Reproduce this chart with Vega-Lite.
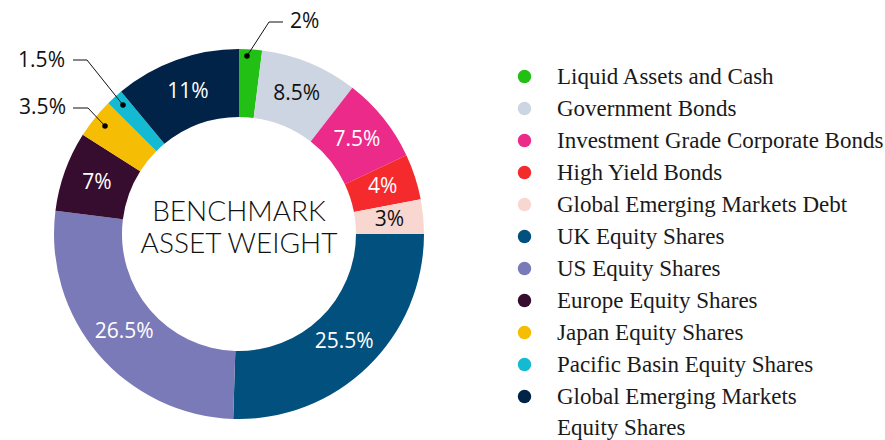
{
  "$schema": "https://vega.github.io/schema/vega-lite/v6.json",
  "width": 478,
  "height": 412,
  "autosize": {"type": "none"},
  "padding": {"left": 0, "top": 28, "right": 407, "bottom": 0},
  "background": "white",
  "config": {"view": {"stroke": null}},
  "datasets": {
    "slices": [
      {"order": 1, "category": "Liquid Assets and Cash", "value": 2, "label": "2%", "inside": false},
      {"order": 2, "category": "Government Bonds", "value": 8.5, "label": "8.5%", "inside": true},
      {"order": 3, "category": "Investment Grade Corporate Bonds", "value": 7.5, "label": "7.5%", "inside": true},
      {"order": 4, "category": "High Yield Bonds", "value": 4, "label": "4%", "inside": true},
      {"order": 5, "category": "Global Emerging Markets Debt", "value": 3, "label": "3%", "inside": true},
      {"order": 6, "category": "UK Equity Shares", "value": 25.5, "label": "25.5%", "inside": true},
      {"order": 7, "category": "US Equity Shares", "value": 26.5, "label": "26.5%", "inside": true},
      {"order": 8, "category": "Europe Equity Shares", "value": 7, "label": "7%", "inside": true},
      {"order": 9, "category": "Japan Equity Shares", "value": 3.5, "label": "3.5%", "inside": false},
      {"order": 10, "category": "Pacific Basin Equity Shares", "value": 1.5, "label": "1.5%", "inside": false},
      {"order": 11, "category": "Global Emerging Markets Equity Shares", "value": 11, "label": "11%", "inside": true}
    ],
    "leaders": [
      {"id": "a", "step": 1, "x": 8, "y": 178},
      {"id": "a", "step": 2, "x": 30, "y": 212},
      {"id": "a", "step": 3, "x": 44, "y": 212},
      {"id": "b", "step": 1, "x": -166, "y": 174},
      {"id": "b", "step": 2, "x": -152, "y": 174},
      {"id": "b", "step": 3, "x": -116, "y": 129},
      {"id": "c", "step": 1, "x": -166, "y": 126},
      {"id": "c", "step": 2, "x": -151, "y": 126},
      {"id": "c", "step": 3, "x": -134, "y": 108}
    ],
    "dots": [
      {"x": 8, "y": 178},
      {"x": -116, "y": 129},
      {"x": -134, "y": 108}
    ],
    "outside": [
      {"label": "2%", "x": 51, "y": 212, "side": "left"},
      {"label": "1.5%", "x": -174, "y": 173, "side": "right"},
      {"label": "3.5%", "x": -173, "y": 126, "side": "right"}
    ]
  },
  "layer": [
    {
      "data": {"name": "slices"},
      "mark": {"type": "arc", "innerRadius": 117, "outerRadius": 185},
      "encoding": {
        "theta": {"field": "value", "type": "quantitative", "stack": true, "scale": {"domain": [0, 100]}},
        "order": {"field": "order", "type": "quantitative"},
        "color": {
          "field": "category",
          "type": "nominal",
          "scale": {
            "domain": ["Liquid Assets and Cash", "Government Bonds", "Investment Grade Corporate Bonds", "High Yield Bonds", "Global Emerging Markets Debt", "UK Equity Shares", "US Equity Shares", "Europe Equity Shares", "Japan Equity Shares", "Pacific Basin Equity Shares", "Global Emerging Markets Equity Shares"],
            "range": ["#22bf14", "#ccd5e1", "#ec2a8a", "#f52a2c", "#f9d7d1", "#02507d", "#7b7ab8", "#360d2f", "#f6bd05", "#14bad2", "#012348"]
          },
          "legend": {
            "orient": "none",
            "legendX": 513,
            "legendY": 37,
            "title": null,
            "symbolType": "circle",
            "symbolSize": 180,
            "symbolStrokeWidth": 0,
            "labelFont": "Liberation Serif",
            "labelFontSize": 23,
            "labelColor": "#1a1a1a",
            "labelOffset": 21,
            "labelLimit": 400,
            "rowPadding": 8,
            "padding": 0,
            "labelExpr": "datum.label == 'Global Emerging Markets Equity Shares' ? ['Global Emerging Markets', 'Equity Shares'] : datum.label",
            "encode": {"labels": {"update": {"lineHeight": {"value": 31}}}}
          }
        }
      }
    },
    {
      "data": {"name": "slices"},
      "mark": {"type": "text", "radius": 151, "font": "Open Sans", "fontSize": 21, "align": "center", "baseline": "middle"},
      "encoding": {
        "theta": {"field": "value", "type": "quantitative", "stack": true, "scale": {"domain": [0, 100]}},
        "order": {"field": "order", "type": "quantitative"},
        "text": {"condition": {"test": "!datum.inside", "value": ""}, "field": "label"},
        "color": {
          "condition": {"test": "datum.category == 'Government Bonds' || datum.category == 'Global Emerging Markets Debt'", "value": "#111111"},
          "value": "#ffffff"
        }
      }
    },
    {
      "data": {"name": "leaders"},
      "mark": {"type": "line", "color": "#111111", "strokeWidth": 1},
      "encoding": {
        "x": {"field": "x", "type": "quantitative", "scale": {"domain": [-239, 239]}, "axis": null},
        "y": {"field": "y", "type": "quantitative", "scale": {"domain": [-206, 206]}, "axis": null},
        "detail": {"field": "id"},
        "order": {"field": "step", "type": "quantitative"}
      }
    },
    {
      "data": {"name": "dots"},
      "mark": {"type": "point", "filled": true, "color": "#000000", "size": 30, "opacity": 1},
      "encoding": {
        "x": {"field": "x", "type": "quantitative", "scale": {"domain": [-239, 239]}, "axis": null},
        "y": {"field": "y", "type": "quantitative", "scale": {"domain": [-206, 206]}, "axis": null}
      }
    },
    {
      "data": {"name": "outside"},
      "transform": [{"filter": "datum.side == 'left'"}],
      "mark": {"type": "text", "font": "Open Sans", "fontSize": 21, "baseline": "middle", "align": "left", "color": "#111111"},
      "encoding": {
        "x": {"field": "x", "type": "quantitative", "scale": {"domain": [-239, 239]}, "axis": null},
        "y": {"field": "y", "type": "quantitative", "scale": {"domain": [-206, 206]}, "axis": null},
        "text": {"field": "label"}
      }
    },
    {
      "data": {"name": "outside"},
      "transform": [{"filter": "datum.side == 'right'"}],
      "mark": {"type": "text", "font": "Open Sans", "fontSize": 21, "baseline": "middle", "align": "right", "color": "#111111"},
      "encoding": {
        "x": {"field": "x", "type": "quantitative", "scale": {"domain": [-239, 239]}, "axis": null},
        "y": {"field": "y", "type": "quantitative", "scale": {"domain": [-206, 206]}, "axis": null},
        "text": {"field": "label"}
      }
    },
    {
      "data": {"values": [{"t": ["BENCHMARK", "ASSET WEIGHT"]}]},
      "mark": {"type": "text", "font": "Lato", "fontWeight": 300, "fontSize": 28, "lineHeight": 32, "align": "center", "baseline": "middle", "dy": -21, "color": "#111111"},
      "encoding": {"text": {"field": "t"}}
    }
  ]
}
